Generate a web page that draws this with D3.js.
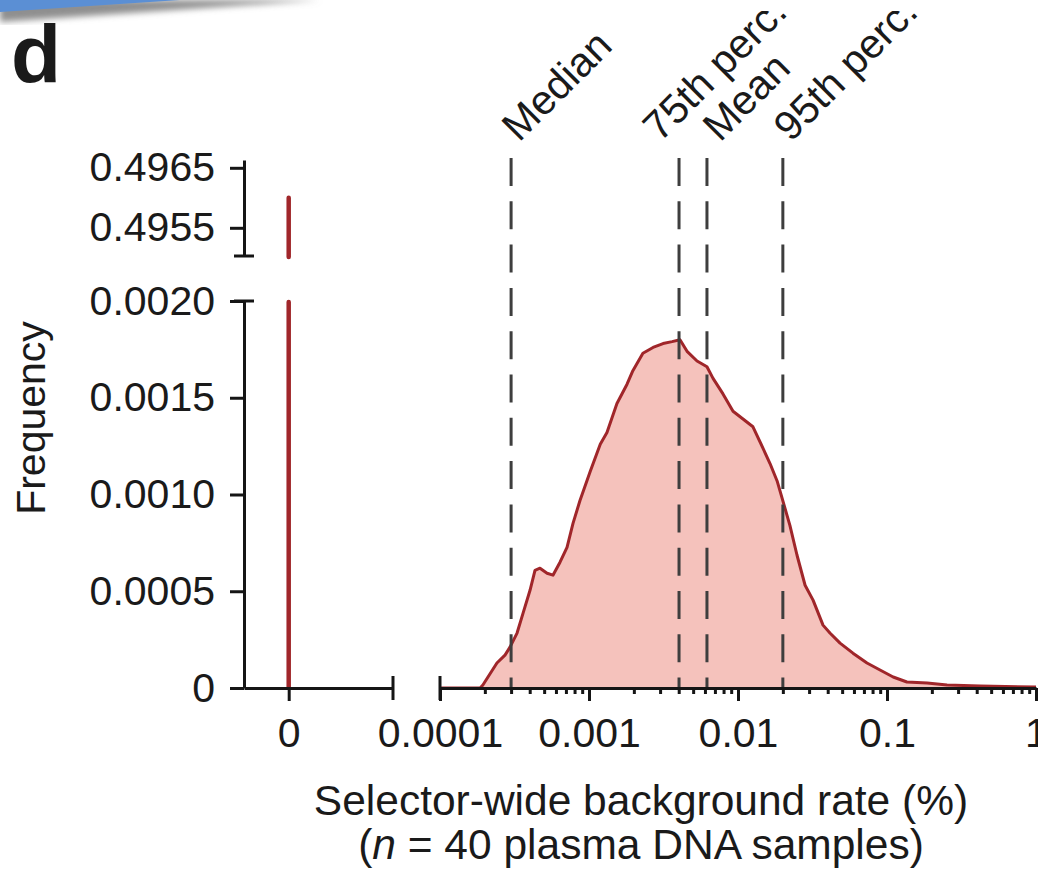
<!DOCTYPE html>
<html>
<head>
<meta charset="utf-8">
<script src="https://cdn.jsdelivr.net/npm/d3@7"></script>
<style>
body { margin: 0; background: #fff; }
text { font-family: "Liberation Sans", Arial, sans-serif; fill: #1a1a1a; }
</style>
</head>
<body>
<div id="chart"></div>
<script>
// selector-wide background rate (%) and the frequency
var rates = [0.0001, 0.000186, 0.000194, 0.000241, 0.000273, 0.000295, 0.000329, 0.000361, 0.000402,
    0.000434, 0.000469, 0.000523, 0.000573, 0.000639, 0.000712, 0.000781, 0.00087, 0.00102,
    0.00119, 0.00132, 0.00154, 0.0018, 0.00197, 0.0023, 0.00269, 0.00314, 0.00361, 0.00408,
    0.00455, 0.00531, 0.00619, 0.0068, 0.00793, 0.00926, 0.0108, 0.0126, 0.0147, 0.0164,
    0.0183, 0.0197, 0.0223, 0.0249, 0.0282, 0.0319, 0.0372, 0.0414, 0.0484, 0.0591, 0.0734,
    0.0898, 0.11, 0.136, 0.186, 0.253, 0.421, 1];
var freqs = [0, 0, 0.0000155, 0.000129, 0.00017, 0.000211, 0.000284, 0.000387, 0.000505,
    0.000608, 0.000619, 0.000593, 0.000583, 0.00065, 0.000727, 0.000851, 0.000969, 0.00112,
    0.00126, 0.00132, 0.00147, 0.00157, 0.00164, 0.00173, 0.00176, 0.00178, 0.00179, 0.0018,
    0.00174, 0.00169, 0.00166, 0.0016, 0.00152, 0.00143, 0.00139, 0.00135, 0.00124, 0.00116,
    0.00107, 0.000985, 0.00084, 0.000686, 0.000531, 0.000454, 0.000325, 0.000284, 0.000232,
    0.00018, 0.000129, 0.0000928, 0.0000567, 0.0000309, 0.0000258, 0.0000155, 0.0000103, 0.0000052];
// frequency of a rate of exactly 0
var zeroFreq = 0.4960;

var statNames = ["Median", "75th perc.", "Mean", "95th perc."];
var statValues = [0.0003, 0.00402, 0.00619, 0.0200];

var logTicks = [0.0001, 0.001, 0.01, 0.1, 1];
var logTickLabels = ["0.0001", "0.001", "0.01", "0.1", "1"];
var lowTicks = [0, 0.0005, 0.0010, 0.0015, 0.0020];
var lowTickLabels = ["0", "0.0005", "0.0010", "0.0015", "0.0020"];
var highTicks = [0.4955, 0.4965];
var highTickLabels = ["0.4955", "0.4965"];

var width = 1038, height = 871;
var fontSize = 41;
var axisColor = "#151515";
var lineColor = "#a0262a";
var fillColor = "#f5c2bc";
// labels pushed sideways so they do not run into each other
var labelNudge = [8, -19, 13, 8];

var svg = d3.select("#chart").append("svg")
    .attr("width", width)
    .attr("height", height);

// slide decoration in the top corner
var defs = svg.append("defs");
defs.append("filter").attr("id", "blur")
    .append("feGaussianBlur").attr("stdDeviation", 3);
defs.append("clipPath").attr("id", "labelClip")
    .append("rect").attr("x", 0).attr("y", 11).attr("width", width).attr("height", height);
svg.append("path")
    .attr("d", "M0,0 L320,0 L0,22 Z")
    .attr("fill", "#8f8f8f")
    .attr("filter", "url(#blur)");
svg.append("path")
    .attr("d", "M0,-4 L240,-4 L0,12 Z")
    .attr("fill", "#5b8fd4");

svg.append("text")
    .attr("x", 11)
    .attr("y", 82)
    .style("font-size", "82px")
    .style("font-weight", "bold")
    .text("d");

// scales
var xLog = d3.scaleLog().domain([0.0001, 1]).range([440, 1036]);
var xZero = d3.scaleLinear().domain([-0.3, 0.7]).range([244, 393]);
var yLow = d3.scaleLinear().domain([0, 0.002]).range([688, 301]);
var yUp = d3.scaleLinear().domain([0.49503, 0.49663]).range([256, 160]);

var data = rates.map(function (r, i) { return { x: r, y: freqs[i] }; });

// area + outline
var area = d3.area()
    .x(function (d) { return xLog(d.x); })
    .y0(yLow(0))
    .y1(function (d) { return yLow(d.y); });
var line = d3.line()
    .x(function (d) { return xLog(d.x); })
    .y(function (d) { return yLow(d.y); });

svg.append("path")
    .datum(data)
    .attr("d", area)
    .attr("fill", fillColor);
svg.append("path")
    .datum(data)
    .attr("d", line)
    .attr("fill", "none")
    .attr("stroke", lineColor)
    .attr("stroke-width", 3)
    .attr("stroke-linejoin", "round");

// bar at zero, split over the broken axis
svg.append("line")
    .attr("x1", xZero(0)).attr("x2", xZero(0))
    .attr("y1", yLow(0)).attr("y2", yLow.range()[1] + 1)
    .attr("stroke", lineColor).attr("stroke-width", 4.5)
    .attr("stroke-linecap", "round");
svg.append("line")
    .attr("x1", xZero(0)).attr("x2", xZero(0))
    .attr("y1", yUp.range()[0] + 1).attr("y2", yUp(zeroFreq))
    .attr("stroke", lineColor).attr("stroke-width", 4.5)
    .attr("stroke-linecap", "round");

// dashed statistic lines
svg.selectAll(".stat")
    .data(statValues)
    .enter().append("line")
    .attr("class", "stat")
    .attr("x1", function (d) { return xLog(d); })
    .attr("x2", function (d) { return xLog(d); })
    .attr("y1", yUp.range()[1] - 2)
    .attr("y2", yLow(0))
    .attr("stroke", "#3e3e3e")
    .attr("stroke-width", 3)
    .attr("stroke-dasharray", "28,15.3");

svg.append("g")
    .attr("clip-path", "url(#labelClip)")
    .selectAll("text")
    .data(statValues)
    .enter().append("text")
    .attr("transform", function (d, i) {
        return "translate(" + (xLog(d) + labelNudge[i]) + ",143) rotate(-45)";
    })
    .style("font-size", fontSize + "px")
    .text(function (d, i) { return statNames[i]; });

function styleAxis(g) {
    g.selectAll("path").attr("stroke", axisColor).attr("stroke-width", 3);
    g.selectAll("line").attr("stroke", axisColor).attr("stroke-width", 3);
    g.selectAll("text")
        .style("font-size", fontSize + "px")
        .style("font-family", "'Liberation Sans', Arial, sans-serif")
        .attr("fill", "#1a1a1a");
}

// y axes
var gLow = svg.append("g")
    .attr("transform", "translate(244,0)")
    .call(d3.axisLeft(yLow).tickValues(lowTicks)
        .tickFormat(function (d, i) { return lowTickLabels[i]; })
        .tickSize(14).tickSizeOuter(0).tickPadding(15));
styleAxis(gLow);
var gUp = svg.append("g")
    .attr("transform", "translate(244,0)")
    .call(d3.axisLeft(yUp).tickValues(highTicks)
        .tickFormat(function (d, i) { return highTickLabels[i]; })
        .tickSize(14).tickSizeOuter(0).tickPadding(15));
styleAxis(gUp);

// x axes
var gZero = svg.append("g")
    .attr("transform", "translate(0," + yLow(0) + ")")
    .call(d3.axisBottom(xZero).tickValues([0]).tickFormat(function () { return "0"; })
        .tickSize(13).tickSizeOuter(0).tickPadding(17));
styleAxis(gZero);
var gLog = svg.append("g")
    .attr("transform", "translate(0," + yLow(0) + ")")
    .call(d3.axisBottom(xLog).tickValues(logTicks)
        .tickFormat(function (d, i) { return logTickLabels[i]; })
        .tickSize(13).tickSizeOuter(0).tickPadding(17));
styleAxis(gLog);

var minor = [];
logTicks.slice(0, -1).forEach(function (t) {
    for (var k = 2; k < 10; k++) minor.push(t * k);
});
var gMinor = svg.append("g")
    .attr("transform", "translate(0," + yLow(0) + ")")
    .call(d3.axisBottom(xLog).tickValues(minor).tickFormat("").tickSize(6).tickSizeOuter(0));
gMinor.select(".domain").remove();
styleAxis(gMinor);

// break caps
var caps = [
    [234, yUp.range()[0], 254, yUp.range()[0]],
    [234, yLow.range()[1], 254, yLow.range()[1]],
    [xZero.range()[1], yLow(0) - 12, xZero.range()[1], yLow(0) + 12],
    [xLog.range()[0], yLow(0) - 12, xLog.range()[0], yLow(0) + 12]
];
svg.selectAll(".cap")
    .data(caps)
    .enter().append("line")
    .attr("class", "cap")
    .attr("x1", function (d) { return d[0]; })
    .attr("y1", function (d) { return d[1]; })
    .attr("x2", function (d) { return d[2]; })
    .attr("y2", function (d) { return d[3]; })
    .attr("stroke", axisColor)
    .attr("stroke-width", 3);

// axis titles
svg.append("text")
    .attr("transform", "translate(45,418) rotate(-90)")
    .attr("text-anchor", "middle")
    .style("font-size", fontSize + "px")
    .text("Frequency");

svg.append("text")
    .attr("x", 641).attr("y", 815)
    .attr("text-anchor", "middle")
    .style("font-size", "42.5px")
    .text("Selector-wide background rate (%)");
var t2 = svg.append("text")
    .attr("x", 641).attr("y", 859)
    .attr("text-anchor", "middle")
    .style("font-size", "42.5px");
t2.append("tspan").text("(");
t2.append("tspan").style("font-style", "italic").text("n");
t2.append("tspan").text(" = 40 plasma DNA samples)");
</script>
</body>
</html>
